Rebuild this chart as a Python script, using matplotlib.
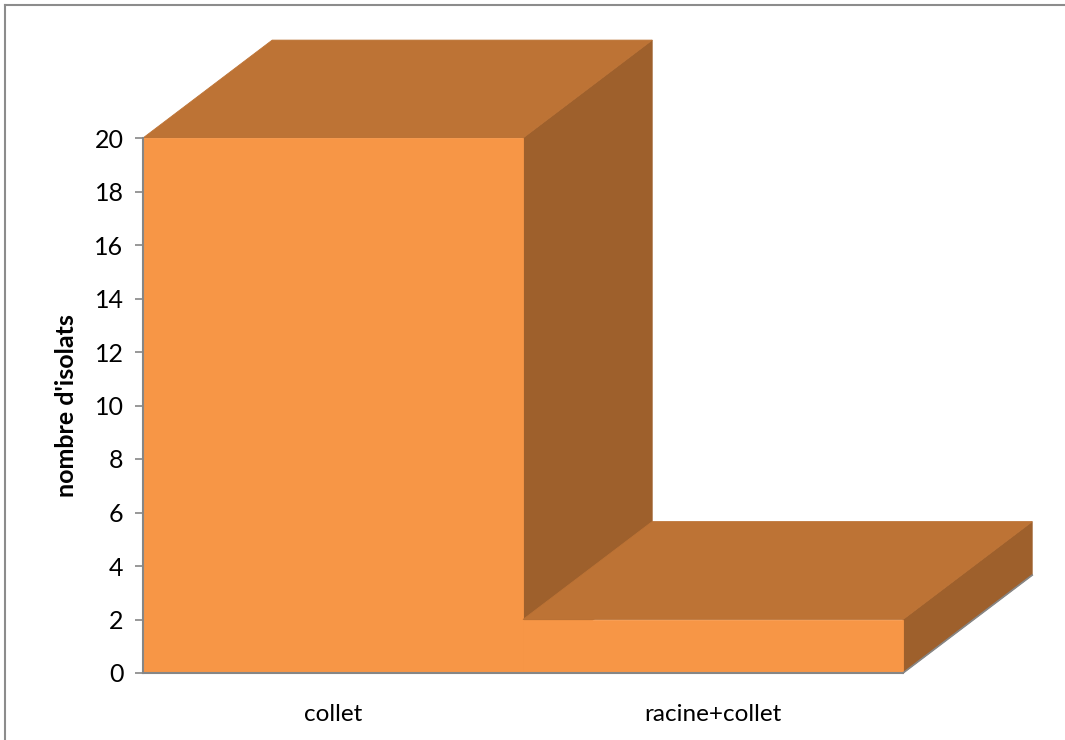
import matplotlib.pyplot as plt
from matplotlib.patches import Polygon
from matplotlib.lines import Line2D

# données
categories = ['collet', 'racine+collet']
values = [20, 2]
yticks = list(range(0, 21, 2))

# couleurs façon Excel (face avant, dessus, côté)
front_color = '#F79646'
top_color = '#BD7335'
side_color = '#9E602C'
axis_color = '#868686'

# profondeur de la perspective, en unités de données
depth_x = 0.34
depth_y = 3.66

W, H = 1065, 740
fig = plt.figure(figsize=(W / 100, H / 100), dpi=100)
ax = fig.add_axes([143 / W, (H - 673) / H, (1040 - 143) / W, (673 - 5) / H])
ax.set_xlim(-0.5, -0.5 + (1040 - 143) / 380)
ax.set_ylim(0, 20 * (673 - 5) / (673 - 138))

for i, v in enumerate(values):
    x0, x1 = i - 0.5, i + 0.5
    top = Polygon([(x0, v), (x0 + depth_x, v + depth_y),
                   (x1 + depth_x, v + depth_y), (x1, v)],
                  closed=True, facecolor=top_color, edgecolor=top_color, lw=0.6)
    side = Polygon([(x1, 0), (x1, v), (x1 + depth_x, v + depth_y),
                    (x1 + depth_x, depth_y)],
                   closed=True, facecolor=side_color, edgecolor=side_color, lw=0.6)
    front = Polygon([(x0, 0), (x0, v), (x1, v), (x1, 0)],
                    closed=True, facecolor=front_color, edgecolor=front_color, lw=0.6)
    for p in (side, top, front):
        ax.add_patch(p)
        p.set_clip_on(False)

# ligne de sol en perspective sous la dernière barre
last = len(values) - 1 + 0.5
ax.plot([last, last + depth_x], [0, depth_y], color=axis_color, lw=1.2,
        clip_on=False, zorder=3)

for s in ('top', 'right'):
    ax.spines[s].set_visible(False)
ax.spines['left'].set_bounds(0, 20)
ax.spines['bottom'].set_bounds(-0.5, len(values) - 0.5)
for s in ('left', 'bottom'):
    ax.spines[s].set_color(axis_color)
    ax.spines[s].set_linewidth(1.5)
    ax.spines[s].set_zorder(3)

ax.set_yticks(yticks)
ax.set_yticklabels([str(t) for t in yticks], fontsize=18, family='Lato')
ax.tick_params(axis='y', length=6, width=1.2, color=axis_color, pad=8)
ax.set_xticks(range(len(categories)))
ax.set_xticklabels(categories, fontsize=17.5, family='Lato')
ax.tick_params(axis='x', length=0, pad=22)
ax.set_ylabel("nombre d'isolats", fontsize=18, fontweight='bold',
              family='Lato', labelpad=10)
ax.yaxis.set_label_coords(-0.072, 0.40)
ax.patch.set_visible(False)

# cadre du graphique
fig.add_artist(Line2D([5 / W, 5 / W], [0, 1 - 5 / H], transform=fig.transFigure,
                      color='#8c8c8c', lw=1.5))
fig.add_artist(Line2D([5 / W, 1], [1 - 5 / H, 1 - 5 / H], transform=fig.transFigure,
                      color='#8c8c8c', lw=1.5))

fig.savefig('out.png', dpi=100)
